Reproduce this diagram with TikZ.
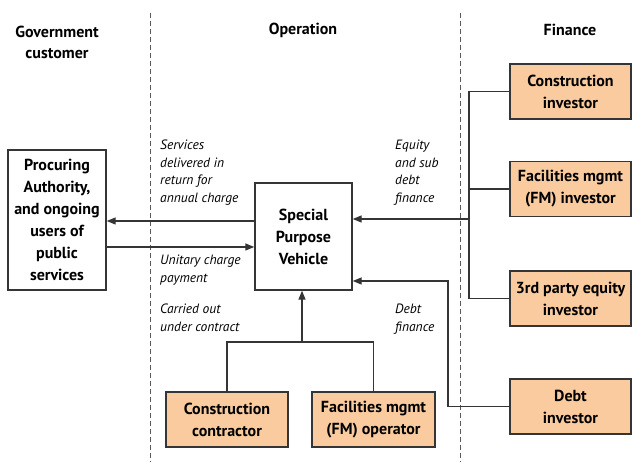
\documentclass[tikz,border=0pt]{standalone}
\usepackage{fontspec}
\setmainfont{PT Sans}
\usetikzlibrary{arrows.meta}

\definecolor{peach}{HTML}{F9CB9F}
\definecolor{inkgray}{HTML}{353535}

\tikzset{
	box/.style={draw=inkgray,line width=1.4pt,inner sep=0pt,align=center,
		font=\bfseries\fontsize{16}{22}\selectfont},
	fundbox/.style={box,fill=peach,minimum width=121pt,minimum height=55pt},
	header/.style={align=center,font=\bfseries\fontsize{16}{21}\selectfont},
	note/.style={anchor=north west,align=left,inner sep=0pt,
		font=\itshape\fontsize{13.5}{17.5}\selectfont},
	link/.style={draw=inkgray,line width=1.3pt},
	arr/.style={link,-{Triangle[length=9pt,width=7pt]}},
	divider/.style={draw=gray!70!black,line width=1pt,dash pattern=on 5pt off 3pt}
}

\begin{document}
\begin{tikzpicture}[x=1pt,y=-1pt]
		\useasboundingbox (0,0) rectangle (633,462);
		% column dividers
		\foreach \x in {150,460}
		\draw[divider] (\x,13) -- (\x,462);

		% headers
		\node[header] (govhead) at (57,42) {Government\\customer};
		\node[header] (ophead) at (303,30) {Operation};
		\node[header] (finhead) at (570,30) {Finance};

		% main boxes
		\node[box,minimum width=98pt,minimum height=140pt] (pa) at (57,220)
			{Procuring\\Authority,\\and ongoing\\users of\\public\\services};
		\node[box,minimum width=97pt,minimum height=107pt] (spv) at (303.5,236.5)
			{Special\\Purpose\\Vehicle};

		% finance side
		\node[fundbox] (ci) at (570.5,91.5) {Construction\\investor};
		\node[fundbox] (fmi) at (570.5,189) {Facilities mgmt\\(FM) investor};
		\node[fundbox] (tpi) at (570.5,298.5) {3rd party equity\\investor};
		\node[fundbox] (dbi) at (570.5,406.5) {Debt\\investor};

		% contractors
		\node[fundbox,minimum width=122pt] (cc) at (227,419.5) {Construction\\contractor};
		\node[fundbox,minimum width=123pt] (fmo) at (373.5,419.5) {Facilities mgmt\\(FM) operator};

		\coordinate (eqbus) at (469,219);
		\coordinate (debtbend) at (448,281);
		\coordinate (ctjoin) at (302,342);

		% connectors
		\draw[arr] ([yshift=15.5pt]spv.west) -- ([yshift=15.5pt]spv.west -| pa.east);
		\draw[arr] ([yshift=-10.5pt]spv.west -| pa.east) -- ([yshift=-10.5pt]spv.west);
		\draw[link] (ci.west) -| (eqbus) |- (tpi.west);
		\draw[link] (fmi.west) -- (fmi.west -| eqbus);
		\draw[arr] (eqbus) -- (eqbus -| spv.east);
		\draw[arr] (dbi.west) -| (debtbend) -- (debtbend -| spv.east);
		\draw[link] (cc.north) |- (ctjoin) -| (fmo.north);
		\draw[arr] (ctjoin) -- (ctjoin |- spv.south);

		% flow labels
		\node[note] (svcnote) at (160,140) {Services\\delivered in\\return for\\annual charge};
		\node[note] (paynote) at (160,255) {Unitary charge\\payment};
		\node[note] (contnote) at (160,304) {Carried out\\under contract};
		\node[note] (eqnote) at (395,140) {Equity\\and sub\\debt\\finance};
		\node[note] (debtnote) at (395,304) {Debt\\finance};
	    \end{tikzpicture}
\end{document}
